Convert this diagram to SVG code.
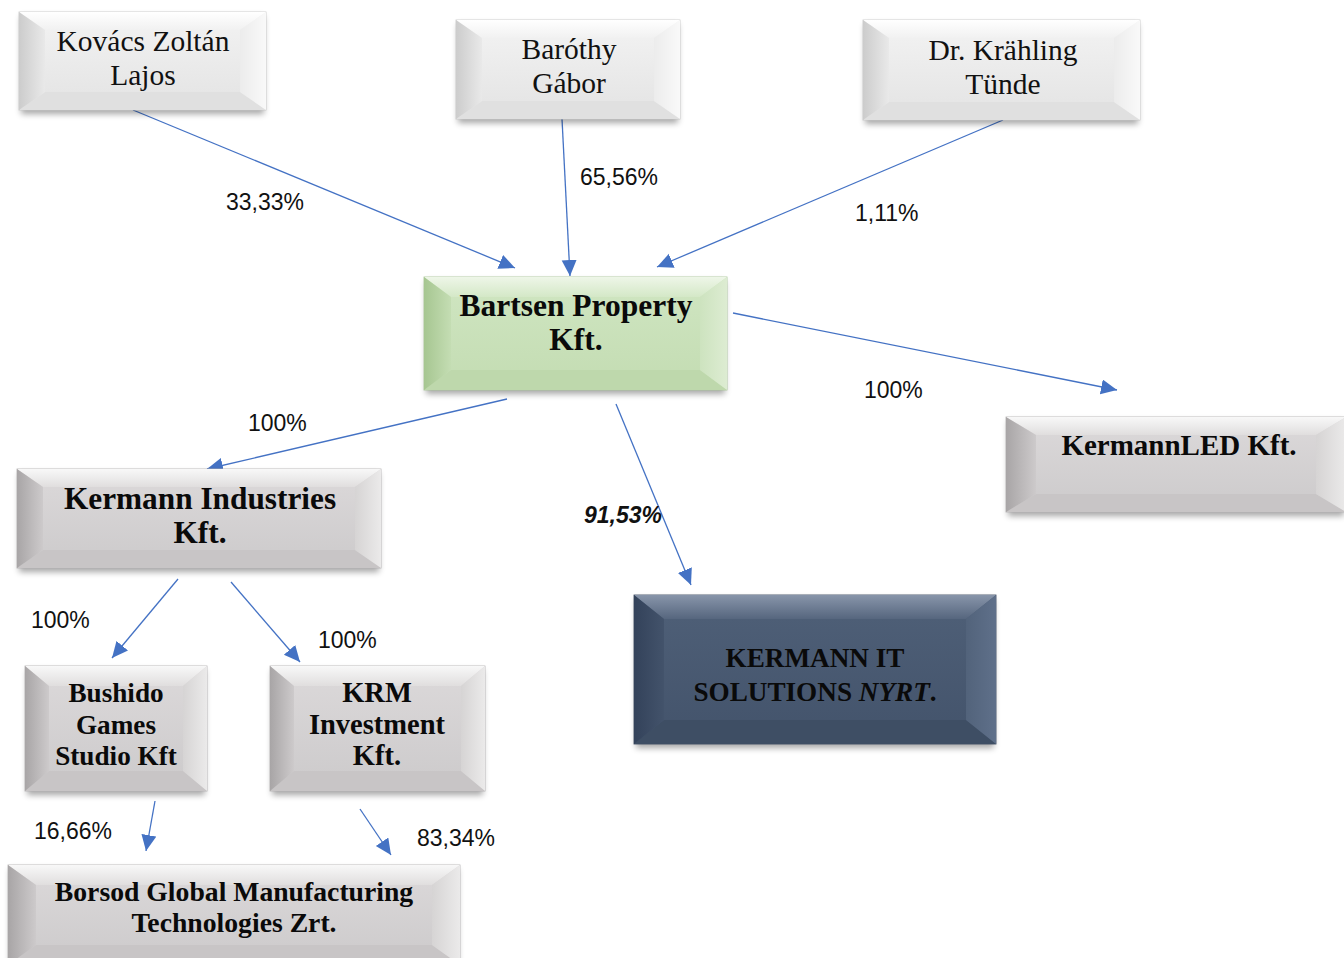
<svg xmlns="http://www.w3.org/2000/svg" width="1344" height="958" viewBox="0 0 1344 958">
<defs>
<filter id="blur" x="-10%" y="-20%" width="120%" height="150%"><feGaussianBlur stdDeviation="3"/></filter>
<marker id="ah" markerUnits="userSpaceOnUse" markerWidth="18" markerHeight="16" refX="16" refY="7.5" orient="auto"><path d="M0,0 L16,7.5 L0,15 Z" fill="#4472c4"/></marker>
<linearGradient id="lc" x1="0" y1="0" x2="0" y2="1"><stop offset="0" stop-color="#f3f3f3"/><stop offset="1" stop-color="#e3e3e3"/></linearGradient>
<linearGradient id="lt" x1="0" y1="0" x2="0" y2="1"><stop offset="0" stop-color="#ffffff"/><stop offset="1" stop-color="#f1f1f1"/></linearGradient>
<linearGradient id="ll" x1="0" y1="0" x2="1" y2="0"><stop offset="0" stop-color="#cccccc"/><stop offset="1" stop-color="#e9e9e9"/></linearGradient>
<linearGradient id="lr" x1="0" y1="0" x2="1" y2="0"><stop offset="0" stop-color="#ececec"/><stop offset="1" stop-color="#f9f9f9"/></linearGradient>
<linearGradient id="gc" x1="0" y1="0" x2="0" y2="1"><stop offset="0" stop-color="#dcd9da"/><stop offset="1" stop-color="#cccacb"/></linearGradient>
<linearGradient id="gt" x1="0" y1="0" x2="0" y2="1"><stop offset="0" stop-color="#f8f8f8"/><stop offset="1" stop-color="#e0dede"/></linearGradient>
<linearGradient id="gl" x1="0" y1="0" x2="1" y2="0"><stop offset="0" stop-color="#a8a5a6"/><stop offset="1" stop-color="#cdcacb"/></linearGradient>
<linearGradient id="gr" x1="0" y1="0" x2="1" y2="0"><stop offset="0" stop-color="#d6d4d4"/><stop offset="1" stop-color="#ebeaea"/></linearGradient>
<linearGradient id="ec" x1="0" y1="0" x2="0" y2="1"><stop offset="0" stop-color="#d0e6c2"/><stop offset="1" stop-color="#c3dcb2"/></linearGradient>
<linearGradient id="et" x1="0" y1="0" x2="0" y2="1"><stop offset="0" stop-color="#eef6e8"/><stop offset="1" stop-color="#d4e8c7"/></linearGradient>
<linearGradient id="el" x1="0" y1="0" x2="1" y2="0"><stop offset="0" stop-color="#a6c691"/><stop offset="1" stop-color="#c4ddb3"/></linearGradient>
<linearGradient id="er" x1="0" y1="0" x2="1" y2="0"><stop offset="0" stop-color="#cde3bf"/><stop offset="1" stop-color="#ddecd2"/></linearGradient>
<linearGradient id="dc" x1="0" y1="0" x2="0" y2="1"><stop offset="0" stop-color="#4f6078"/><stop offset="1" stop-color="#43536b"/></linearGradient>
<linearGradient id="dt" x1="0" y1="0" x2="0" y2="1"><stop offset="0" stop-color="#8895aa"/><stop offset="1" stop-color="#56667e"/></linearGradient>
<linearGradient id="dl" x1="0" y1="0" x2="1" y2="0"><stop offset="0" stop-color="#33425a"/><stop offset="1" stop-color="#43536b"/></linearGradient>
<linearGradient id="dr" x1="0" y1="0" x2="1" y2="0"><stop offset="0" stop-color="#52637b"/><stop offset="1" stop-color="#5f708a"/></linearGradient>
</defs>
<style>
.sh{fill:#000;opacity:.35;filter:url(#blur)}
.L .c{fill:url(#lc);stroke:#c8c8c8;stroke-width:.8}.L .t{fill:url(#lt)}.L .l{fill:url(#ll)}.L .r{fill:url(#lr)}.L .b{fill:#e0e0e0}
.G .c{fill:url(#gc);stroke:#b5b2b3;stroke-width:.8}.G .t{fill:url(#gt)}.G .l{fill:url(#gl)}.G .r{fill:url(#gr)}.G .b{fill:#c8c5c6}
.E .c{fill:url(#ec);stroke:#a9c596;stroke-width:.8}.E .t{fill:url(#et)}.E .l{fill:url(#el)}.E .r{fill:url(#er)}.E .b{fill:#bed8ac}
.D .c{fill:url(#dc);stroke:#34435a;stroke-width:.8}.D .t{fill:url(#dt)}.D .l{fill:url(#dl)}.D .r{fill:url(#dr)}.D .b{fill:#3e4e64}
.tn{font-family:"Liberation Serif","Times New Roman",serif;font-size:29.5px;fill:#111;text-anchor:middle}
.tb{font-family:"Liberation Serif","Times New Roman",serif;font-weight:bold;fill:#0a0a0a;text-anchor:middle}
.pc{font-family:"Liberation Sans",Arial,sans-serif;font-size:23px;fill:#111}
.cn line{stroke:#4472c4;stroke-width:1.3;marker-end:url(#ah)}
</style>
<rect width="1344" height="958" fill="#fff"/>

<g id="connectors" class="cn">
<line x1="133" y1="110" x2="515" y2="268"/>
<line x1="562" y1="119" x2="570" y2="276"/>
<line x1="1003" y1="120" x2="657" y2="267"/>
<line x1="733" y1="313" x2="1117" y2="390"/>
<line x1="507" y1="399" x2="207" y2="469"/>
<line x1="616" y1="404" x2="691" y2="585"/>
<line x1="178" y1="579" x2="112" y2="658"/>
<line x1="231" y1="582" x2="300" y2="662"/>
<line x1="155" y1="801" x2="146" y2="851"/>
<line x1="360" y1="809" x2="391" y2="855"/>
</g>

<g id="labels">
<text class="pc" x="226" y="210">33,33%</text>
<text class="pc" x="580" y="185">65,56%</text>
<text class="pc" x="855" y="221">1,11%</text>
<text class="pc" x="864" y="398">100%</text>
<text class="pc" x="248" y="431">100%</text>
<text class="pc" x="584" y="523" font-weight="bold" font-style="italic">91,53%</text>
<text class="pc" x="31" y="628">100%</text>
<text class="pc" x="318" y="648">100%</text>
<text class="pc" x="34" y="839">16,66%</text>
<text class="pc" x="417" y="846">83,34%</text>
</g>

<g id="kovacs" class="L">
<rect class="sh" x="21" y="16" width="243" height="98"/>
<rect class="c" x="19" y="12" width="247" height="98"/>
<polygon class="t" points="19,12 266,12 240,30 45,30"/>
<polygon class="b" points="19,110 266,110 240,92 45,92"/>
<polygon class="l" points="19,12 45,30 45,92 19,110"/>
<polygon class="r" points="266,12 240,30 240,92 266,110"/>
<text class="tn" x="143" y="51">Kovács Zoltán</text>
<text class="tn" x="143" y="85">Lajos</text>
</g>

<g id="barothy" class="L">
<rect class="sh" x="458" y="24" width="220" height="99"/>
<rect class="c" x="456" y="20" width="224" height="99"/>
<polygon class="t" points="456,20 680,20 654,38 482,38"/>
<polygon class="b" points="456,119 680,119 654,101 482,101"/>
<polygon class="l" points="456,20 482,38 482,101 456,119"/>
<polygon class="r" points="680,20 654,38 654,101 680,119"/>
<text class="tn" x="569" y="59">Baróthy</text>
<text class="tn" x="569" y="93">Gábor</text>
</g>

<g id="krahling" class="L">
<rect class="sh" x="865" y="24" width="273" height="100"/>
<rect class="c" x="863" y="20" width="277" height="100"/>
<polygon class="t" points="863,20 1140,20 1114,38 889,38"/>
<polygon class="b" points="863,120 1140,120 1114,102 889,102"/>
<polygon class="l" points="863,20 889,38 889,102 863,120"/>
<polygon class="r" points="1140,20 1114,38 1114,102 1140,120"/>
<text class="tn" x="1003" y="60">Dr. Krähling</text>
<text class="tn" x="1003" y="94">Tünde</text>
</g>

<g id="bartsen" class="E">
<rect class="sh" x="426" y="281" width="299" height="113"/>
<rect class="c" x="424" y="277" width="303" height="113"/>
<polygon class="t" points="424,277 727,277 700,297 451,297"/>
<polygon class="b" points="424,390 727,390 700,370 451,370"/>
<polygon class="l" points="424,277 451,297 451,370 424,390"/>
<polygon class="r" points="727,277 700,297 700,370 727,390"/>
<text class="tb" x="576" y="316" font-size="31.5">Bartsen Property</text>
<text class="tb" x="576" y="350" font-size="31.5">Kft.</text>
</g>

<g id="kermannled" class="G">
<rect class="sh" x="1008" y="421" width="336" height="95"/>
<rect class="c" x="1006" y="417" width="340" height="95"/>
<polygon class="t" points="1006,417 1346,417 1316,435 1036,435"/>
<polygon class="b" points="1006,512 1346,512 1316,494 1036,494"/>
<polygon class="l" points="1006,417 1036,435 1036,494 1006,512"/>
<polygon class="r" points="1346,417 1316,435 1316,494 1346,512"/>
<text class="tb" x="1179" y="455" font-size="29">KermannLED Kft.</text>
</g>

<g id="kermann-industries" class="G">
<rect class="sh" x="19" y="473" width="360" height="99"/>
<rect class="c" x="17" y="469" width="364" height="99"/>
<polygon class="t" points="17,469 381,469 355,487 43,487"/>
<polygon class="b" points="17,568 381,568 355,550 43,550"/>
<polygon class="l" points="17,469 43,487 43,550 17,568"/>
<polygon class="r" points="381,469 355,487 355,550 381,568"/>
<text class="tb" x="200" y="509" font-size="31.3">Kermann Industries</text>
<text class="tb" x="200" y="543" font-size="31.3">Kft.</text>
</g>

<g id="kermann-it" class="D">
<rect class="sh" x="636" y="599" width="358" height="149"/>
<rect class="c" x="634" y="595" width="362" height="149"/>
<polygon class="t" points="634,595 996,595 966,619 664,619"/>
<polygon class="b" points="634,744 996,744 966,720 664,720"/>
<polygon class="l" points="634,595 664,619 664,720 634,744"/>
<polygon class="r" points="996,595 966,619 966,720 996,744"/>
<text class="tb" x="815" y="667" font-size="27.2">KERMANN IT</text>
<text class="tb" x="815" y="701" font-size="27.2">SOLUTIONS <tspan font-style="italic">NYRT</tspan>.</text>
</g>

<g id="bushido" class="G">
<rect class="sh" x="27" y="670" width="178" height="125"/>
<rect class="c" x="25" y="666" width="182" height="125"/>
<polygon class="t" points="25,666 207,666 183,686 49,686"/>
<polygon class="b" points="25,791 207,791 183,771 49,771"/>
<polygon class="l" points="25,666 49,686 49,771 25,791"/>
<polygon class="r" points="207,666 183,686 183,771 207,791"/>
<text class="tb" x="116" y="702" font-size="27.2">Bushido</text>
<text class="tb" x="116" y="734" font-size="27.2">Games</text>
<text class="tb" x="116" y="765" font-size="27.2">Studio Kft</text>
</g>

<g id="krm" class="G">
<rect class="sh" x="272" y="670" width="211" height="125"/>
<rect class="c" x="270" y="666" width="215" height="125"/>
<polygon class="t" points="270,666 485,666 461,686 294,686"/>
<polygon class="b" points="270,791 485,791 461,771 294,771"/>
<polygon class="l" points="270,666 294,686 294,771 270,791"/>
<polygon class="r" points="485,666 461,686 461,771 485,791"/>
<text class="tb" x="377" y="702" font-size="28.5">KRM</text>
<text class="tb" x="377" y="734" font-size="28.5">Investment</text>
<text class="tb" x="377" y="765" font-size="28.5">Kft.</text>
</g>

<g id="borsod" class="G">
<rect class="sh" x="10" y="869" width="448" height="100"/>
<rect class="c" x="8" y="865" width="452" height="100"/>
<polygon class="t" points="8,865 460,865 432,885 36,885"/>
<polygon class="b" points="8,965 460,965 432,945 36,945"/>
<polygon class="l" points="8,865 36,885 36,945 8,965"/>
<polygon class="r" points="460,865 432,885 432,945 460,965"/>
<text class="tb" x="234" y="901" font-size="27.7">Borsod Global Manufacturing</text>
<text class="tb" x="234" y="932" font-size="27.7">Technologies Zrt.</text>
</g>
</svg>
